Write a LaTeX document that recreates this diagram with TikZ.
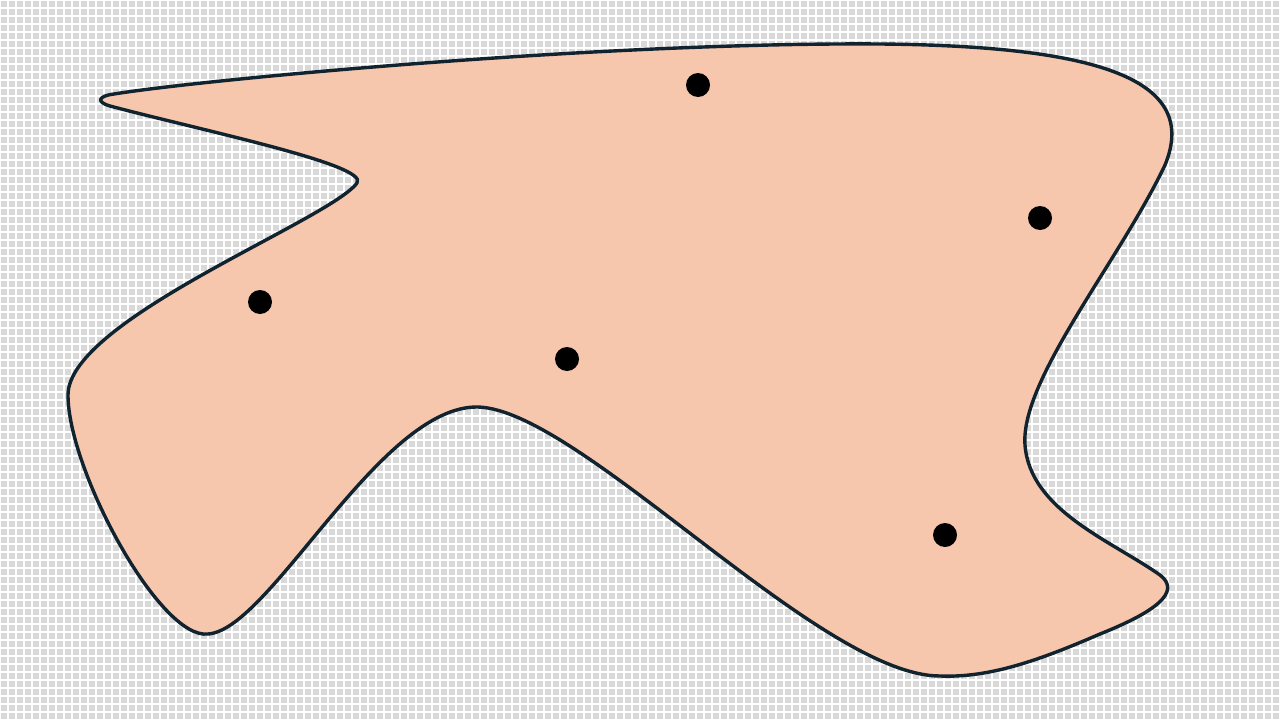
\documentclass[tikz,border=0pt]{standalone}
\definecolor{gridbg}{HTML}{D9D9D9}
\definecolor{blobfill}{HTML}{F6C6AD}
\definecolor{blobline}{HTML}{10232E}
\tikzset{
  dot/.style={circle,fill=black,inner sep=0pt,minimum size=24pt},
  blob/.style={fill=blobfill,draw=blobline,line width=3.4pt,line join=round}
}
\begin{document}
\begin{tikzpicture}[x=1pt,y=-1pt]
\useasboundingbox (0,0) rectangle (1280,720);
\fill[gridbg] (0,0) rectangle (1280,720);
\foreach \i in {0,8,...,1280} {\draw[white,line width=1.2pt] (\i,0) -- (\i,720);}
\foreach \j in {0,8,...,720} {\draw[white,line width=1.2pt] (0,\j) -- (1280,\j);}
\draw[blob] (114,94)
  .. controls (200,80) and (600,42) .. (880,44)
  .. controls (1100,46) and (1200,80) .. (1165,165)
  .. controls (1120,260) and (1020,380) .. (1025,445)
  .. controls (1030,510) and (1110,540) .. (1160,575)
  .. controls (1182,592) and (1155,612) .. (1100,634)
  .. controls (1040,660) and (990,678) .. (940,676)
  .. controls (820,676) and (580,410) .. (478,407)
  .. controls (380,405) and (270,630) .. (208,634)
  .. controls (160,640) and (68,470) .. (68,395)
  .. controls (68,320) and (330,220) .. (357,183)
  .. controls (370,165) and (200,130) .. (110,106)
  .. controls (96,102) and (98,96) .. cycle;
\node[dot] (d1) at (698,85) {};
\node[dot] (d2) at (1040,218) {};
\node[dot] (d3) at (260,302) {};
\node[dot] (d4) at (567,359) {};
\node[dot] (d5) at (945,535) {};
\end{tikzpicture}
\end{document}
